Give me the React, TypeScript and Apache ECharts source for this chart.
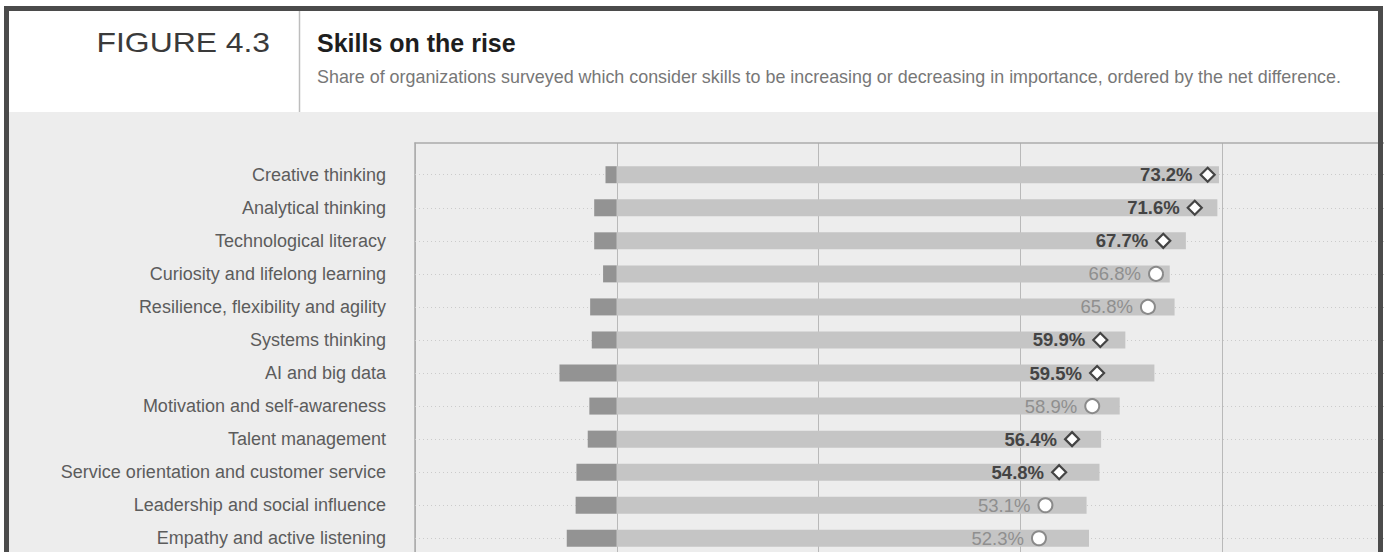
import React, { useEffect, useRef } from "react";
import * as echarts from "echarts";

const categories = [
  "Creative thinking",
  "Analytical thinking",
  "Technological literacy",
  "Curiosity and lifelong learning",
  "Resilience, flexibility and agility",
  "Systems thinking",
  "AI and big data",
  "Motivation and self-awareness",
  "Talent management",
  "Service orientation and customer service",
  "Leadership and social influence",
  "Empathy and active listening",
];

// share considering the skill increasing in importance (%)
const increasing = [74.6, 74.4, 70.5, 68.5, 69.1, 63.0, 66.6, 62.3, 60.0, 59.8, 58.2, 58.5];
// share considering the skill decreasing in importance (%)
const decreasing = [1.4, 2.8, 2.8, 1.7, 3.3, 3.1, 7.1, 3.4, 3.6, 5.0, 5.1, 6.2];
// net difference (%), shown as label and marker
const netValues = [73.2, 71.6, 67.7, 66.8, 65.8, 59.9, 59.5, 58.9, 56.4, 54.8, 53.1, 52.3];
const markerTypes = [
  "diamond", "diamond", "diamond", "circle", "circle", "diamond",
  "diamond", "circle", "diamond", "diamond", "circle", "circle",
];

const xTicks = { min: -25, max: 100, interval: 25 };

const FONT = "'Liberation Sans', Arial, Helvetica, sans-serif";

export default function App() {
  const ref = useRef<HTMLDivElement>(null);

  useEffect(() => {
    if (!ref.current) return;
    const chart = echarts.init(ref.current, undefined, { renderer: "svg" });

    const option: any = {
      animation: false,
      backgroundColor: "#ffffff",
      grid: [
        { left: 415, right: 16, top: 143, bottom: 0 },
        { left: 415, right: 16, top: 158.2, height: 396.6 },
      ],
      xAxis: [
        {
          gridIndex: 0,
          type: "value",
          min: xTicks.min,
          max: xTicks.max,
          interval: xTicks.interval,
          position: "top",
          axisLine: { show: true, onZero: false, lineStyle: { color: "#ababab", width: 1.5 } },
          axisTick: { show: false },
          axisLabel: { show: false },
          splitLine: { show: true, lineStyle: { color: "#b9b9b9", width: 1 } },
        },
        {
          gridIndex: 1,
          type: "value",
          min: xTicks.min,
          max: xTicks.max,
          show: false,
        },
      ],
      yAxis: [
        {
          gridIndex: 0,
          type: "value",
          min: 0,
          max: 1,
          axisLine: { show: true, onZero: false, lineStyle: { color: "#ababab", width: 1.5 } },
          axisTick: { show: false },
          axisLabel: { show: false },
          splitLine: { show: false },
        },
        {
          gridIndex: 1,
          type: "category",
          inverse: true,
          data: categories,
          axisLine: { show: false },
          axisTick: { show: false },
          splitLine: { show: false },
          axisLabel: {
            color: "#5c5c5c",
            fontSize: 18,
            fontFamily: FONT,
            margin: 29,
          },
        },
      ],
      graphic: [
        {
          type: "rect",
          z: -10,
          silent: true,
          shape: { x: 9, y: 112, width: 1369, height: 600 },
          style: { fill: "#ededed" },
        },
        {
          type: "line",
          z: 50,
          silent: true,
          shape: { x1: 299.5, y1: 11, x2: 299.5, y2: 112 },
          style: { stroke: "#bdbdbd", lineWidth: 1.5 },
        },
        {
          type: "text",
          z: 50,
          x: 270,
          y: 42,
          scaleX: 1.18,
          style: {
            text: "FIGURE 4.3",
            fill: "#3a3a3a",
            fontSize: 27,
            fontFamily: FONT,
            align: "right",
            verticalAlign: "middle",
          },
        },
        {
          type: "text",
          z: 50,
          x: 317,
          y: 42.5,
          style: {
            text: "Skills on the rise",
            fill: "#1e1e1e",
            fontSize: 25,
            fontWeight: "bold",
            fontFamily: FONT,
            align: "left",
            verticalAlign: "middle",
          },
        },
        {
          type: "text",
          z: 50,
          x: 317,
          y: 76.5,
          style: {
            text: "Share of organizations surveyed which consider skills to be increasing or decreasing in importance, ordered by the net difference.",
            fill: "#777777",
            fontSize: 17.9,
            fontFamily: FONT,
            align: "left",
            verticalAlign: "middle",
          },
        },
        {
          type: "rect",
          z: 100,
          silent: true,
          shape: { x: 6.5, y: 8.5, width: 1374, height: 700 },
          style: { fill: "none", stroke: "#4b4b4b", lineWidth: 5 },
        },
      ],
      series: [
        {
          type: "scatter",
          xAxisIndex: 1,
          yAxisIndex: 1,
          data: [],
          z: 1,
          silent: true,
          markLine: {
            z: 1,
            silent: true,
            symbol: ["none", "none"],
            label: { show: false },
            lineStyle: { color: "#cbcbcb", width: 1, type: [1, 3] },
            data: categories.map((_, i) => ({ yAxis: i })),
          },
        },
        {
          type: "bar",
          name: "Decreasing",
          xAxisIndex: 1,
          yAxisIndex: 1,
          stack: "share",
          barWidth: 17,
          z: 3,
          silent: true,
          itemStyle: { color: "#939393" },
          data: decreasing.map((v) => -v),
        },
        {
          type: "bar",
          name: "Increasing",
          xAxisIndex: 1,
          yAxisIndex: 1,
          stack: "share",
          barWidth: 17,
          z: 3,
          silent: true,
          itemStyle: { color: "#c5c5c5" },
          data: increasing,
        },
        {
          type: "scatter",
          name: "Net",
          xAxisIndex: 1,
          yAxisIndex: 1,
          z: 6,
          silent: true,
          data: netValues.map((v, i) => {
            const isDiamond = markerTypes[i] === "diamond";
            return {
              value: [v, i],
              symbol: markerTypes[i],
              symbolSize: 14,
              itemStyle: {
                color: "#ffffff",
                borderColor: isDiamond ? "#444444" : "#8a8a8a",
                borderWidth: isDiamond ? 2.2 : 2,
                opacity: 1,
              },
              label: {
                show: true,
                position: "left",
                distance: 7,
                formatter: v.toFixed(1) + "%",
                fontSize: 18.5,
                fontFamily: FONT,
                fontWeight: isDiamond ? "bold" : "normal",
                color: isDiamond ? "#444444" : "#8f8f8f",
              },
            };
          }),
        },
      ],
    };

    chart.setOption(option);
    return () => chart.dispose();
  }, []);

  return (
    <div
      style={{
        position: "fixed",
        left: 0,
        top: 0,
        width: 1384,
        height: 552,
        overflow: "hidden",
        background: "#ffffff",
      }}
    >
      <div ref={ref} style={{ width: 1440, height: 600 }} />
    </div>
  );
}
